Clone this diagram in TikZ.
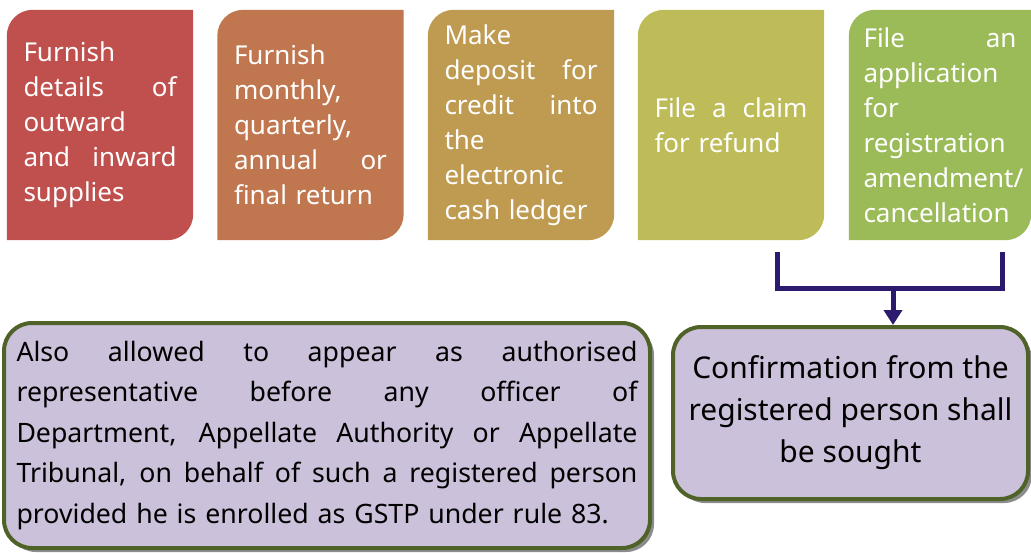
\documentclass[tikz,border=0pt]{standalone}
\usepackage{fontspec}
\setmainfont{Noto Sans}
\usetikzlibrary{calc,backgrounds,arrows.meta,shadows}
\definecolor{cA}{HTML}{C0504D}
\definecolor{cB}{HTML}{C0774F}
\definecolor{cC}{HTML}{BF9B52}
\definecolor{cD}{HTML}{BDBC59}
\definecolor{cE}{HTML}{9BBB59}
\definecolor{frameG}{HTML}{4F6228}
\definecolor{lav}{HTML}{CCC1DA}
\definecolor{navy}{HTML}{2C1A6E}
\newcommand\J[2][153pt]{\makebox[#1][s]{\spaceskip=0.26em plus 1fil\relax#2}}
\newcommand\leaf[2]{%
  \fill[#2] (#1.south west) -- ($(#1.north west)+(0,26)$)
    .. controls ($(#1.north west)+(0,11.6)$) and ($(#1.north west)+(11.6,0)$) .. ($(#1.north west)+(26,0)$)
    -- (#1.north east) -- ($(#1.south east)+(0,-26)$)
    .. controls ($(#1.south east)+(0,-11.6)$) and ($(#1.south east)+(-11.6,0)$) .. ($(#1.south east)+(-26,0)$)
    -- cycle;}
\tikzset{
  topbox/.style={minimum width=186pt, minimum height=230pt, inner sep=0pt,
    text width=153pt, align=left, text=white, font=\fontsize{26}{35}\selectfont},
  botbox/.style={draw=frameG, line width=4pt, fill=lav, rounded corners=28pt, inner sep=0pt,
    drop shadow={shadow xshift=4pt, shadow yshift=-4pt, fill=black!45, opacity=1}},
  conn/.style={draw=navy, line width=5pt},
}
\begin{document}
\begin{tikzpicture}[x=1pt,y=-1pt]
\useasboundingbox (0,0) rectangle (1031,552);
\node[topbox] (b1) at (100,125) {Furnish\\ \J{details of}\\ outward\\ \J{and inward}\\ supplies};
\node[topbox] (b2) at (310.5,125) {Furnish\\ monthly,\\ quarterly,\\ \J{annual or}\\ final return};
\node[topbox] (b3) at (521,125) {Make\\ \J{deposit for}\\ \J{credit into}\\ the\\ electronic\\ cash ledger};
\node[topbox] (b4) at (731,125) {\J{File a claim}\\ for refund};
\node[topbox, minimum width=182pt] (b5) at (940,125) {\J{File an}\\ application\\ for\\ registration\\ amendment/\\ cancellation};
\begin{scope}[on background layer]
\leaf{b1}{cA}
\leaf{b2}{cB}
\leaf{b3}{cC}
\leaf{b4}{cD}
\leaf{b5}{cE}
\end{scope}
\node[botbox, minimum width=646pt, minimum height=225pt, text width=621pt, align=left,
  font=\fontsize{26.7}{40.5}\selectfont] (n1) at (327,435.5)
  {\J[621pt]{Also allowed to appear as authorised}\\
   \J[621pt]{representative before any officer of}\\
   \J[621pt]{Department, Appellate Authority or Appellate}\\
   \J[621pt]{Tribunal, on behalf of such a registered person}\\
   provided he is enrolled as GSTP under rule 83.};
\node[botbox, minimum width=355pt, minimum height=172pt, align=center,
  font=\fontsize{30}{42}\selectfont] (n2) at (850.5,413)
  {Confirmation from the\\ registered person shall\\ be sought};
\coordinate (l1) at (777,252);
\coordinate (r1) at (1002,252);
\coordinate (j) at (893,288);
\draw[conn] (l1) |- (j) -| (r1);
\draw[conn, -{Triangle[width=18pt,length=15pt]}] (j) -- (j |- n2.north);
\end{tikzpicture}
\end{document}
